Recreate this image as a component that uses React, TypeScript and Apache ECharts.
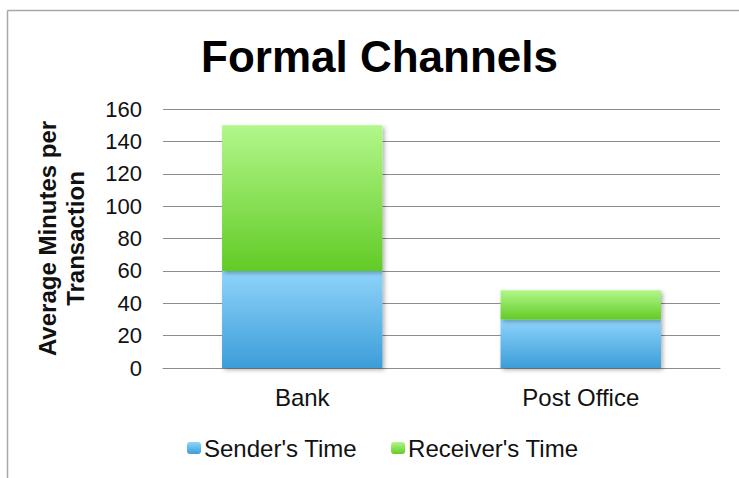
import React, { useEffect, useRef } from "react";
import * as echarts from "echarts";

const categories = ["Bank", "Post Office"];
const senderTime = [60, 30];
const receiverTime = [90, 18];
const yTicks = { min: 0, max: 160, interval: 20 };

const FONT = "'Liberation Sans', Arial, sans-serif";

export default function App() {
  const ref = useRef<HTMLDivElement>(null);
  useEffect(() => {
    if (!ref.current) return;
    const chart = echarts.init(ref.current, null, { renderer: "svg" });
    const blue = new echarts.graphic.LinearGradient(0, 0, 0, 1, [
      { offset: 0, color: "#8fd4fb" },
      { offset: 1, color: "#3c9dd8" },
    ]);
    const green = new echarts.graphic.LinearGradient(0, 0, 0, 1, [
      { offset: 0, color: "#b2f78b" },
      { offset: 1, color: "#62cb26" },
    ]);
    const shadow = {
      shadowBlur: 4,
      shadowColor: "rgba(0,0,0,0.3)",
      shadowOffsetX: 2,
      shadowOffsetY: 2,
    };
    chart.setOption({
      animation: false,
      backgroundColor: "#ffffff",
      textStyle: { fontFamily: FONT },
      title: {
        text: "Formal Channels",
        left: 196,
        top: 29,
        textStyle: { fontFamily: FONT, fontSize: 44, fontWeight: "bold", color: "#000" },
      },
      graphic: [
        { type: "line", shape: { x1: 7.5, y1: 10.5, x2: 739, y2: 10.5 }, style: { stroke: "#a8a8a8", lineWidth: 1.5 } },
        { type: "line", shape: { x1: 7.5, y1: 10.5, x2: 7.5, y2: 478 }, style: { stroke: "#a8a8a8", lineWidth: 1.5 } },
      ],
      grid: { left: 163, right: 19, top: 109, bottom: 110 },
      legend: {
        left: 182,
        top: 431,
        itemWidth: 14,
        itemHeight: 12,
        itemGap: 34,
        textStyle: { fontFamily: FONT, fontSize: 24, color: "#111", padding: [0, 0, 0, -2] },
        data: ["Sender's Time", "Receiver's Time"],
      },
      xAxis: {
        type: "category",
        data: categories,
        axisLine: { show: true, lineStyle: { color: "#8c8c8c", width: 1 } },
        axisTick: { show: false },
        axisLabel: { fontFamily: FONT, fontSize: 24, color: "#111", margin: 17 },
      },
      yAxis: {
        type: "value",
        min: yTicks.min,
        max: yTicks.max,
        interval: yTicks.interval,
        name: "Average Minutes per\nTransaction",
        nameLocation: "middle",
        nameRotate: 90,
        nameGap: 74,
        nameTextStyle: { fontFamily: FONT, fontSize: 24, fontWeight: "bold", color: "#111", lineHeight: 28 },
        axisLine: { show: false },
        axisTick: { show: false },
        axisLabel: { fontFamily: FONT, fontSize: 22, color: "#111", margin: 21 },
        splitLine: { lineStyle: { color: "#8c8c8c", width: 1 } },
      },
      series: [
        {
          name: "Sender's Time",
          type: "bar",
          stack: "t",
          data: senderTime,
          barWidth: "57.6%",
          itemStyle: { color: blue, ...shadow },
        },
        {
          name: "Receiver's Time",
          type: "bar",
          stack: "t",
          data: receiverTime,
          barWidth: "57.6%",
          itemStyle: { color: green, ...shadow },
        },
      ],
    });
    return () => chart.dispose();
  }, []);
  return (
    <div
      ref={ref}
      style={{ position: "fixed", left: 0, top: 0, width: 739, height: 478 }}
    />
  );
}
